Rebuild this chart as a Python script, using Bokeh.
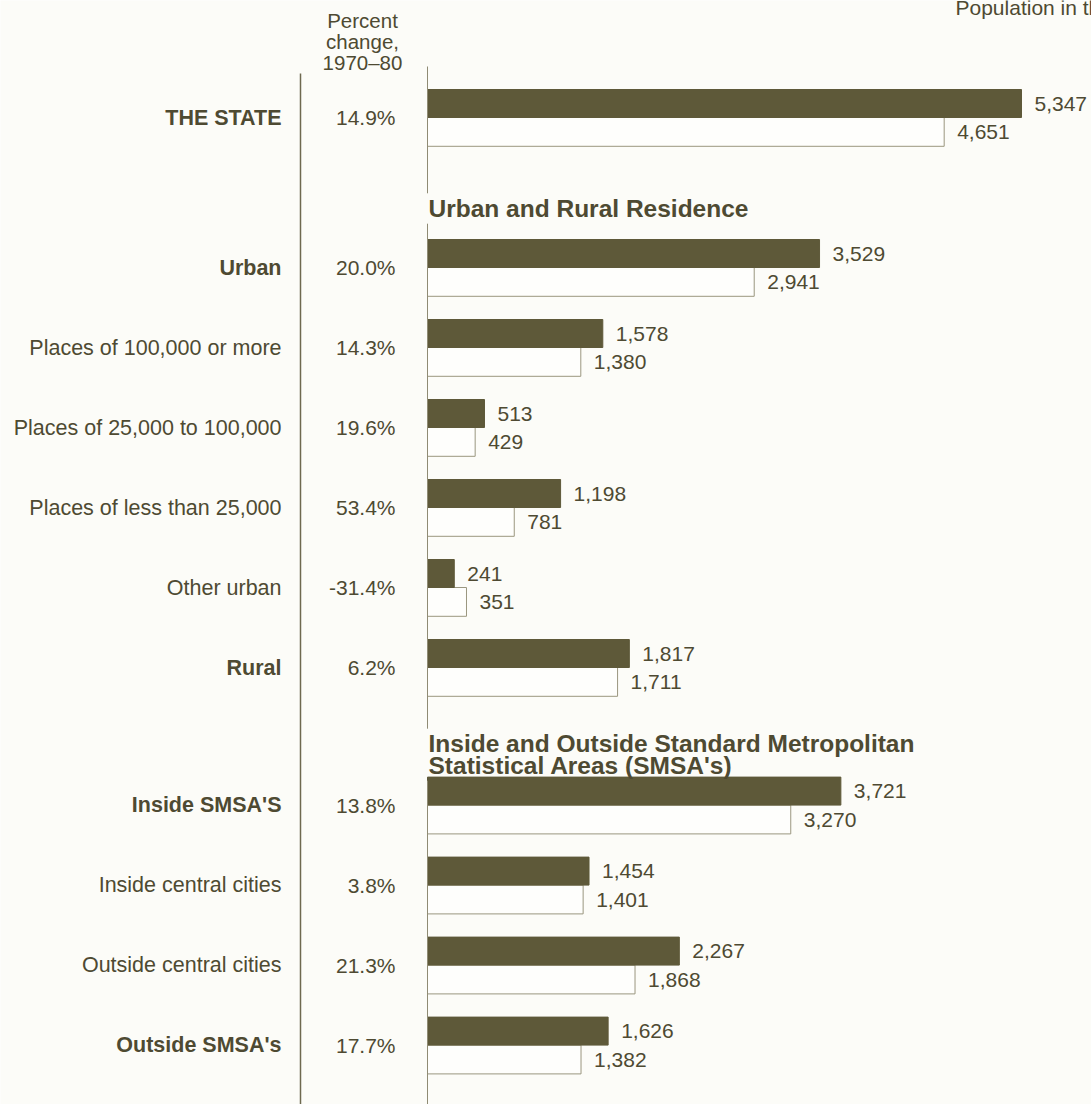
from bokeh.plotting import figure
from bokeh.models import ColumnDataSource, Range1d, Label
from bokeh.core.properties import value
from bokeh.embed import file_html
from bokeh.resources import INLINE

# ---- data ----
categories = ["THE STATE", "Urban", "Places of 100,000 or more",
              "Places of 25,000 to 100,000", "Places of less than 25,000",
              "Other urban", "Rural", "Inside SMSA'S", "Inside central cities",
              "Outside central cities", "Outside SMSA's"]
bold_rows = [True, True, False, False, False, False, True, True, False, False, True]
pct_change = ["14.9%", "20.0%", "14.3%", "19.6%", "53.4%", "-31.4%", "6.2%",
              "13.8%", "3.8%", "21.3%", "17.7%"]
pop_1980 = [5347, 3529, 1578, 513, 1198, 241, 1817, 3721, 1454, 2267, 1626]
pop_1970 = [4651, 2941, 1380, 429, 781, 351, 1711, 3270, 1401, 1868, 1382]
row_group = [0, 1, 1, 1, 1, 1, 1, 2, 2, 2, 2]
group_titles = {1: ["Urban and Rural Residence"],
                2: ["Inside and Outside Standard Metropolitan",
                    "Statistical Areas (SMSA's)"]}

# ---- layout ----
W, H = 1091, 1104
FONT = "Liberation Sans"
TXT = "#4e4a32"
BAR = "#5e5939"
BG = "#fcfcf8"
PX_PER_K = 594 / 5347          # pixels per thousand persons
X0_PAGE = 427                  # zero line position within the figure
ROW_PX = 80
LBL = "21.5px"
extra_gap = {0: 0.0, 1: 0.875, 2: 0.72}

# row positions (in row units)
ypos = []
gap = 0.0
prev = None
for i, g in enumerate(row_group):
    if g != prev and prev is not None:
        gap += extra_gap[g]
    ypos.append(i + gap)
    prev = g

x_start = -X0_PAGE / PX_PER_K
x_end = (W - X0_PAGE) / PX_PER_K
top_u = -117 / ROW_PX
bot_u = top_u + H / ROW_PX

p = figure(width=W, height=H, output_backend="svg", toolbar_location=None,
           x_range=Range1d(x_start, x_end), y_range=Range1d(bot_u, top_u),
           min_border=0, background_fill_color=BG, border_fill_color=BG,
           outline_line_color=None)
p.axis.visible = False
p.grid.visible = False

BH_TOP = 0.35
BH_BOT = 0.36
src = ColumnDataSource(dict(
    y=ypos, cat=categories, pct=pct_change,
    v80=pop_1980, v70=pop_1970,
    t80=[f"{v:,}" for v in pop_1980], t70=[f"{v:,}" for v in pop_1970],
    top80=[y - BH_TOP for y in ypos], bot70=[y + BH_BOT for y in ypos],
    zero=[0] * len(ypos),
    ymid80=[y - BH_TOP / 2 for y in ypos], ymid70=[y + BH_BOT / 2 for y in ypos],
))

# hollow 1970 bars
p.quad(left="zero", right="v70", top="y", bottom="bot70", source=src,
       fill_color="#ffffff", fill_alpha=0.6, line_color="#9a967f", line_width=1)
# filled 1980 bars
p.quad(left="zero", right="v80", top="top80", bottom="y", source=src,
       fill_color=BAR, line_color=BAR, line_width=1)

# value labels
for xcol, ycol, tcol in (("v80", "ymid80", "t80"), ("v70", "ymid70", "t70")):
    p.text(x=xcol, y=ycol, text=tcol, source=src, x_offset=13,
           text_baseline="middle", text_align="left", text_color=TXT,
           text_font=value(FONT), text_font_size="21px")

# category labels and percent changes
bold_src = ColumnDataSource(dict(
    y=[y for y, b in zip(ypos, bold_rows) if b],
    cat=[c for c, b in zip(categories, bold_rows) if b],
    zero=[0] * sum(bold_rows)))
norm_src = ColumnDataSource(dict(
    y=[y for y, b in zip(ypos, bold_rows) if not b],
    cat=[c for c, b in zip(categories, bold_rows) if not b],
    zero=[0] * (len(bold_rows) - sum(bold_rows))))
p.text(x="zero", y="y", text="cat", source=bold_src, x_offset=-146,
       text_align="right", text_baseline="middle", text_color=TXT,
       text_font=value(FONT), text_font_size=LBL, text_font_style="bold")
p.text(x="zero", y="y", text="cat", source=norm_src, x_offset=-146,
       text_align="right", text_baseline="middle", text_color=TXT,
       text_font=value(FONT), text_font_size=LBL)
p.text(x="zero", y="y", text="pct", source=src, x_offset=-32,
       text_align="right", text_baseline="middle", text_color=TXT,
       text_font=value(FONT), text_font_size="21px")

# group titles
first_row = {}
for i, g in enumerate(row_group):
    first_row.setdefault(g, i)
title_spans = []
LINE_U = 0.27
for g, lines in group_titles.items():
    y0 = ypos[first_row[g]] - (0.7375 if len(lines) == 1 else 0.765)
    for k, line in enumerate(lines):
        p.add_layout(Label(x=0, y=y0 + k * LINE_U, text=line, x_offset=1,
                           text_baseline="middle", text_align="left",
                           text_color=TXT, text_font=FONT,
                           text_font_size="24.5px", text_font_style="bold"))
    title_spans.append((y0 - 0.19, y0 + (len(lines) - 1) * LINE_U + 0.19))

# zero line, broken around titles
seg_y0, seg_y1 = [], []
start = -0.6375
for a, b in title_spans:
    seg_y0.append(start)
    seg_y1.append(a)
    start = b
seg_y0.append(start)
seg_y1.append(bot_u)
p.segment(x0=[0] * len(seg_y0), x1=[0] * len(seg_y0), y0=seg_y0, y1=seg_y1,
          line_color="#8f8b74", line_width=1)

# divider line between labels and percent column
div_x = (300 - X0_PAGE) / PX_PER_K
p.segment(x0=[div_x], x1=[div_x], y0=[-0.55], y1=[bot_u],
          line_color="#6e694f", line_width=1.5)

# column headers
pct_x = (362 - X0_PAGE) / PX_PER_K
for k, line in enumerate(["Percent", "change,", "1970\u201380"]):
    p.add_layout(Label(x=pct_x, y=-1.2125 + k * 0.2625, text=line,
                       text_baseline="middle", text_align="center",
                       text_color=TXT, text_font=FONT, text_font_size="20.5px"))
p.add_layout(Label(x=(955 - X0_PAGE) / PX_PER_K, y=-1.375,
                   text="Population in thousands",
                   text_baseline="middle", text_align="left",
                   text_color=TXT, text_font=FONT, text_font_size="21px"))

open("out.html", "w").write(file_html(p, INLINE))
